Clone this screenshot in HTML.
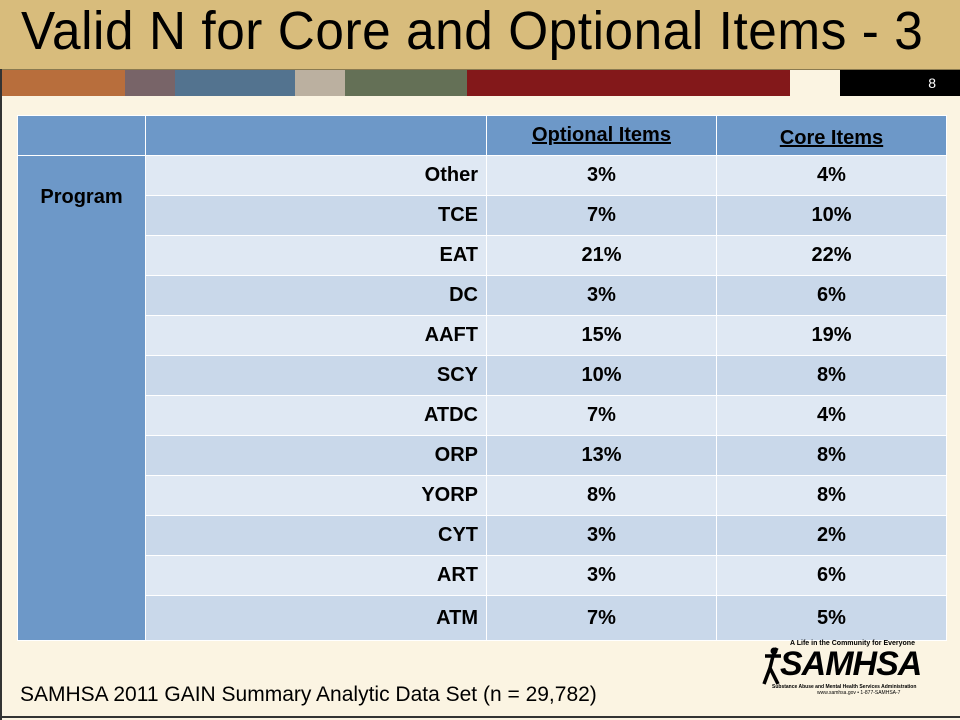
<!DOCTYPE html>
<html><head><meta charset="utf-8"><style>
body{margin:0;width:960px;height:720px;overflow:hidden;background:#fbf4e2;font-family:"Liberation Sans",sans-serif;position:relative}
.abs{position:absolute}
#title{left:0;top:0;width:960px;height:69px;background:#d8bc7c;border-bottom:1px solid #8a7a50}
#title span{position:absolute;left:21px;top:0px;font-size:54px;color:#000;white-space:nowrap;letter-spacing:0.6px;transform:scaleX(0.95);transform-origin:left top}
.seg{top:70px;height:26px}
table{position:absolute;left:17px;top:115px;border-collapse:collapse;table-layout:fixed}
td{border:1.5px solid #fff;font-weight:bold;font-size:20px;padding:0;color:#000}
.h td{background:#6d98c8;height:39px}
.h u{display:block;text-align:center}
.r1 td{background:#dfe8f3}
.r2 td{background:#c9d8ea}
td.lab{text-align:right;padding-right:8px}
td.v{text-align:center}
td.prog{background:#6d98c8 !important;vertical-align:top;text-align:center;padding-top:30px}
#foot{left:20px;top:683px;font-size:21px;color:#000;white-space:nowrap}
</style></head><body>
<div id="title" class="abs"><span>Valid N for Core and Optional Items - 3</span></div>
<div class="abs seg" style="left:2px;width:123px;background:#b86e3c"></div>
<div class="abs seg" style="left:125px;width:50px;background:#786468"></div>
<div class="abs seg" style="left:175px;width:120px;background:#53738f"></div>
<div class="abs seg" style="left:295px;width:50px;background:#bbb0a0"></div>
<div class="abs seg" style="left:345px;width:122px;background:#647056"></div>
<div class="abs seg" style="left:467px;width:323px;background:#83181a"></div>
<div class="abs seg" style="left:840px;width:120px;background:#000;color:#fff;font-size:14px;text-align:right;line-height:26px"><span style="padding-right:24px">8</span></div>
<div class="abs" style="left:0;top:69px;width:2px;height:651px;background:#333"></div>
<table>
<colgroup><col style="width:128px"><col style="width:341px"><col style="width:230px"><col style="width:230px"></colgroup>
<tbody id="tb">
<tr class="h"><td></td><td></td><td><u>Optional Items</u></td><td><u style="margin-top:6px">Core Items</u></td></tr>
</tbody></table>
<div id="foot" class="abs">SAMHSA 2011 GAIN Summary Analytic Data Set (n = 29,782)</div>
<div class="abs" style="left:762px;top:640px;width:180px;height:56px">
<div style="position:absolute;left:28px;top:0;font-size:7px;font-weight:bold;white-space:nowrap">A Life in the Community for Everyone</div>
<svg style="position:absolute;left:0;top:6px" width="22" height="40" viewBox="0 0 22 40"><circle cx="12" cy="5" r="3.5" fill="#000"/><path d="M3 10 L19 10 M11 10 L8 22 L2 38 M8 22 L16 38 M11 10 L15 2" stroke="#000" stroke-width="3.5" fill="none"/></svg>
<div style="position:absolute;left:18px;top:5px;font-size:34px;font-weight:bold;font-style:italic;letter-spacing:-1px">SAMHSA</div>
<div style="position:absolute;left:10px;top:44px;font-size:5px;font-weight:bold;white-space:nowrap">Substance Abuse and Mental Health Services Administration</div>
<div style="position:absolute;left:55px;top:50px;font-size:5px;white-space:nowrap">www.samhsa.gov • 1-877-SAMHSA-7</div>
</div>
<div class="abs" style="left:0;top:716px;width:960px;height:2px;background:#333"></div>
<script>
const programs=["Other","TCE","EAT","DC","AAFT","SCY","ATDC","ORP","YORP","CYT","ART","ATM"];
const optionalItems=["3%","7%","21%","3%","15%","10%","7%","13%","8%","3%","3%","7%"];
const coreItems=["4%","10%","22%","6%","19%","8%","4%","8%","8%","2%","6%","5%"];
const tb=document.getElementById('tb');
programs.forEach((p,i)=>{
 const tr=document.createElement('tr');
 tr.className=i%2?'r2':'r1';
 
 
 const h=(i==programs.length-1)?44:39;
 if(i==0){const c=document.createElement('td');c.className='prog';c.rowSpan=programs.length;c.textContent='Program';
 
 
 tr.appendChild(c);}
 const a=document.createElement('td');a.className='lab';a.textContent=p;a.style.height=h+'px';
 
 
 const b=document.createElement('td');b.className='v';b.textContent=optionalItems[i];
 
 
 const c2=document.createElement('td');c2.className='v';c2.textContent=coreItems[i];
 
 
 tr.appendChild(a);tr.appendChild(b);tr.appendChild(c2);tb.appendChild(tr);
});
</script>
</body></html>
